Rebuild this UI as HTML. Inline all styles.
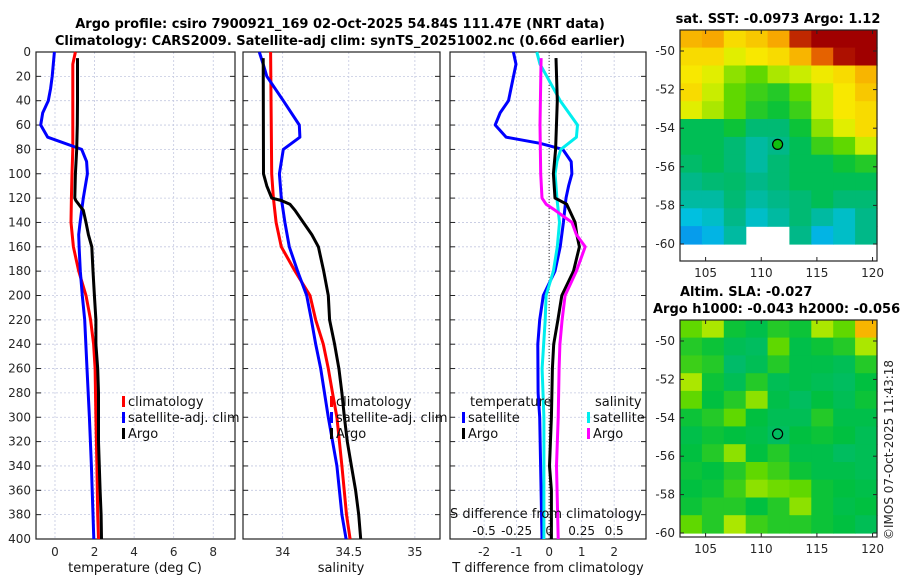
<!DOCTYPE html>
<html><head><meta charset="utf-8"><style>
html,body{margin:0;padding:0;background:#fff;}
svg{display:block;font-family:"DejaVu Sans","Liberation Sans",sans-serif;}
</style></head><body>
<svg id="fig" width="900" height="580" viewBox="0 0 900 580">
<text x="340" y="28" text-anchor="middle" font-size="13" font-weight="bold" fill="#000">Argo profile: csiro 7900921_169 02-Oct-2025 54.84S 111.47E (NRT data)</text>
<text x="340" y="45" text-anchor="middle" font-size="13" font-weight="bold" fill="#000">Climatology: CARS2009. Satellite-adj clim: synTS_20251002.nc (0.66d earlier)</text>
<text x="778" y="23" text-anchor="middle" font-size="13" font-weight="bold">sat. SST: -0.0973 Argo: 1.12</text>
<text x="680" y="296" font-size="13" font-weight="bold">Altim. SLA: -0.027</text>
<text x="653" y="313" font-size="13" font-weight="bold">Argo h1000: -0.043 h2000: -0.056</text>
<text transform="translate(893,540) rotate(-90)" font-size="12" fill="#262626">©IMOS 07-Oct-2025 11:43:18</text>
</svg>
<script>
// ---- data ----
const depthTicks=[0,20,40,60,80,100,120,140,160,180,200,220,240,260,280,300,320,340,360,380,400];
const tTicks=[0,2,4,6,8];
const sTicks=[34,34.5,35];
const dTicks=[-2,-1,0,1,2];
const sDiffTickLabels=["-0.5","-0.25","0","0.25","0.5"];
const sDiffTicks=[-0.5,-0.25,0,0.25,0.5];

const argoTD=[5,40,60,80,100,120,122,130,140,150,160,180,200,220,240,260,280,300,320,340,360,380,400];
const argoT=[1.14,1.14,1.13,1.1,1.03,1.0,1.05,1.43,1.57,1.69,1.86,1.92,1.99,2.07,2.07,2.16,2.2,2.2,2.2,2.24,2.28,2.33,2.35];
const climTD=[0,10,40,80,100,120,140,160,180,200,220,240,260,300,340,380,400];
const climT=[1.03,0.9,0.9,0.9,0.86,0.83,0.81,0.93,1.2,1.57,1.8,1.95,2.03,2.07,2.12,2.16,2.2];
const satTD=[0,20,30,40,50,60,70,80,90,100,120,140,150,160,180,200,220,260,300,340,400];
const satT=[-0.03,-0.14,-0.22,-0.34,-0.62,-0.72,-0.37,1.35,1.6,1.64,1.43,1.27,1.2,1.22,1.28,1.38,1.5,1.62,1.74,1.84,1.96];

const argoSD=[5,100,110,120,122,125,130,140,150,160,180,200,220,240,260,280,300,320,340,360,380,400];
const argoS=[33.853,33.855,33.88,33.917,33.99,34.055,34.093,34.156,34.22,34.27,34.31,34.345,34.355,34.393,34.425,34.448,34.467,34.489,34.52,34.552,34.575,34.59];
const climSD=[0,100,120,140,160,180,200,220,240,260,280,300,340,380,400];
const climS=[33.909,33.917,33.93,33.95,33.99,34.093,34.207,34.25,34.307,34.345,34.377,34.41,34.448,34.483,34.51];
const satSD=[0,10,20,40,60,70,80,100,120,140,160,180,200,220,240,260,300,340,380,400];
const satS=[33.823,33.853,33.88,34.005,34.126,34.13,34.005,33.975,33.99,34.017,34.05,34.113,34.182,34.217,34.25,34.288,34.345,34.41,34.448,34.48];

const satTdiffD=[0,10,40,50,60,70,75,80,90,100,110,120,140,160,180,200,220,240,280,300,400];
const satTdiff=[-1.1,-1.02,-1.25,-1.51,-1.66,-1.32,-0.28,0.42,0.68,0.7,0.6,0.52,0.44,0.34,0.18,-0.18,-0.29,-0.35,-0.34,-0.29,-0.22];
const argoTdiffD=[5,40,80,100,120,125,140,150,160,180,200,220,240,260,300,340,360,400];
const argoTdiff=[0.21,0.25,0.2,0.13,0.18,0.54,0.8,0.85,0.93,0.75,0.39,0.27,0.14,0.1,0.07,0.01,0.07,0.07];
const satSdiffD=[0,10,20,40,60,70,80,90,100,120,140,160,180,200,220,260,300,400];
const satSdiff=[-0.095,-0.07,-0.018,0.085,0.218,0.21,0.09,0.06,0.046,0.06,0.08,0.063,0.033,-0.023,-0.03,-0.054,-0.04,-0.04];
const argoSdiffD=[5,60,100,120,125,130,140,150,160,180,200,220,240,260,300,340,400];
const argoSdiff=[-0.062,-0.07,-0.065,-0.055,-0.023,0.046,0.175,0.21,0.277,0.21,0.123,0.1,0.083,0.077,0.07,0.057,0.07];

const sstGrid=[
[.78,.8,.72,.75,.8,.95,1,1,1],
[.72,.72,.65,.7,.72,.78,.88,.98,1],
[.7,.65,.58,.55,.6,.62,.68,.72,.78],
[.72,.62,.55,.52,.5,.55,.62,.7,.75],
[.65,.6,.55,.5,.48,.52,.62,.7,.72],
[.45,.45,.48,.42,.42,.48,.58,.65,.72],
[.45,.45,.42,.38,.4,.45,.52,.55,.62],
[.43,.45,.42,.38,.42,.45,.45,.48,.5],
[.4,.42,.43,.4,.42,.45,.45,.45,.45],
[.38,.38,.42,.38,.4,.42,.45,.42,.42],
[.33,.35,.4,.35,.38,.42,.38,.35,.4],
[.3,.32,.38,null,null,.4,.32,.35,.4]];
const slaGrid=[
[.55,.6,.48,.46,.5,.48,.6,.55,.78],
[.5,.48,.45,.44,.55,.46,.48,.5,.6],
[.52,.5,.43,.45,.5,.46,.46,.45,.5],
[.6,.48,.45,.5,.45,.46,.45,.44,.47],
[.55,.47,.5,.58,.46,.44,.47,.45,.48],
[.48,.5,.55,.47,.45,.45,.5,.46,.46],
[.46,.48,.47,.46,.44,.47,.48,.47,.45],
[.47,.5,.58,.47,.5,.46,.46,.44,.45],
[.48,.47,.5,.55,.52,.48,.46,.46,.45],
[.47,.48,.52,.58,.56,.55,.48,.47,.46],
[.48,.5,.5,.47,.5,.58,.48,.46,.47],
[.55,.5,.6,.52,.5,.5,.48,.47,.45]];
const lonTicks=[105,110,115,120];
const latTicks=[-50,-52,-54,-56,-58,-60];
const argoLon=111.47, argoLat=-54.84;

// ---- drawing ----
const NS="http://www.w3.org/2000/svg";
const svg=document.getElementById('fig');
function mk(tag,attrs,parent){const e=document.createElementNS(NS,tag);for(const k in attrs)e.setAttribute(k,attrs[k]);(parent||svg).appendChild(e);return e;}
const Y0=52,Y1=539;
const yD=d=>Y0+(Y1-Y0)*d/400;

function panel(name,x0,x1,xmin,xmax,ticks,labels){
  const g=mk('g',{});
  
  
  const sx=v=>x0+(x1-x0)*(v-xmin)/(xmax-xmin);
  depthTicks.forEach(d=>{
    const l=mk('line',{x1:x0,x2:x1,y1:yD(d),y2:yD(d),stroke:'#c3c8e0','stroke-width':0.8,'stroke-dasharray':'2,2'},g);
    
    
    mk('line',{x1:x0,x2:x0+5,y1:yD(d),y2:yD(d),stroke:'#222'},g);
    mk('line',{x1:x1-5,x2:x1,y1:yD(d),y2:yD(d),stroke:'#222'},g);
  });
  ticks.forEach((t,i)=>{
    const l=mk('line',{x1:sx(t),x2:sx(t),y1:Y0,y2:Y1,stroke:'#c3c8e0','stroke-width':0.8,'stroke-dasharray':'2,2'},g);
    
    
    const tx=mk('text',{x:sx(t),y:Y1+17,'text-anchor':'middle','font-size':12,fill:'#262626'},g);
    tx.textContent=labels?labels[i]:String(t);
    
    
  });
  mk('rect',{x:x0,y:Y0,width:x1-x0,height:Y1-Y0,fill:'none',stroke:'#222','stroke-width':1.2},g);
  return {g,sx};
}
function line(p,name,ds,vs,color,w){
  const pts=ds.map((d,i)=>p.sx(vs[i]).toFixed(1)+','+yD(d).toFixed(1)).join(' ');
  const pl=mk('polyline',{points:pts,fill:'none',stroke:color,'stroke-width':w||3,'stroke-linejoin':'round'},p.g);
  
  
}
// depth labels
depthTicks.forEach(d=>{
  const t=mk('text',{x:31,y:yD(d)+4,'text-anchor':'end','font-size':12,fill:'#262626'});
  t.textContent=String(d);
  
  
});
const p1=panel('temperature-panel',36,235,-0.96,9.1,tTicks);
line(p1,'climatology-temperature-line',climTD,climT,'#f00');
line(p1,'satellite-temperature-line',satTD,satT,'#00f');
line(p1,'argo-temperature-line',argoTD,argoT,'#000');
const p2=panel('salinity-panel',243,440,33.70,35.19,sTicks);
line(p2,'climatology-salinity-line',climSD,climS,'#f00');
line(p2,'satellite-salinity-line',satSD,satS,'#00f');
line(p2,'argo-salinity-line',argoSD,argoS,'#000');
const p3=panel('difference-panel',450,646,-3.05,2.98,dTicks);
const zl=mk('line',{x1:p3.sx(0),x2:p3.sx(0),y1:Y0,y2:Y1,stroke:'#333','stroke-dasharray':'1,2'},p3.g);


const p3s={g:p3.g,sx:v=>p3.sx(v*4)};
line(p3,'satellite-temperature-diff-line',satTdiffD,satTdiff,'#00f');
line(p3s,'satellite-salinity-diff-line',satSdiffD,satSdiff,'#0ee');
line(p3,'argo-temperature-diff-line',argoTdiffD,argoTdiff,'#000');
line(p3s,'argo-salinity-diff-line',argoSdiffD,argoSdiff,'#f0f');
sDiffTicks.forEach((s,i)=>{
  const t=mk('text',{x:p3s.sx(s),y:535,'text-anchor':'middle','font-size':12,fill:'#111'});
  t.textContent=sDiffTickLabels[i];
  
  
});
function txt(x,y,s,name,anchor,size){const t=mk('text',{x:x,y:y,'font-size':size||13,fill:'#111','text-anchor':anchor||'start'});t.textContent=s;return t;}
txt(450,518,'S difference from climatology','s-diff-axis-title');
txt(135,572,'temperature (deg C)','temperature-axis-title','middle');
txt(341,572,'salinity','salinity-axis-title','middle');
txt(548,572,'T difference from climatology','t-diff-axis-title','middle');
function legItem(x,y,color,label,name){
  const r=mk('rect',{x:x,y:y-10,width:3,height:11,fill:color});
  
  
  txt(x+6,y,label,name);
}
legItem(122,406,'#f00','climatology','legend-climatology');
legItem(122,422,'#00f','satellite-adj. clim','legend-satellite');
legItem(122,438,'#000','Argo','legend-argo');
legItem(330,406,'#f00','climatology','legend2-climatology');
legItem(330,422,'#00f','satellite-adj. clim','legend2-satellite');
legItem(330,438,'#000','Argo','legend2-argo');
txt(470,406,'temperature','legend3-temperature-header');
legItem(462,422,'#00f','satellite','legend3-t-satellite');
legItem(462,438,'#000','Argo','legend3-t-argo');
txt(595,406,'salinity','legend3-salinity-header');
legItem(587,422,'#0ee','satellite','legend3-s-satellite');
legItem(587,438,'#f0f','Argo','legend3-s-argo');

// colormap
const cStops=[[0.25,[16,96,255]],[0.33,[0,192,224]],[0.40,[0,184,136]],[0.47,[0,192,64]],[0.55,[96,216,0]],[0.63,[216,240,0]],[0.70,[248,232,0]],[0.80,[248,168,0]],[0.90,[224,80,0]],[1.0,[160,0,0]]];
function cmap(v){
  if(v<=cStops[0][0])return 'rgb('+cStops[0][1]+')';
  for(let i=1;i<cStops.length;i++){if(v<=cStops[i][0]){const a=cStops[i-1],b=cStops[i],f=(v-a[0])/(b[0]-a[0]);return 'rgb('+a[1].map((c,k)=>Math.round(c+(b[1][k]-c)*f)).join(',')+')';}}
  return 'rgb('+cStops[cStops.length-1][1]+')';
}
function mapPanel(name,grid,x0,x1,y0,y1,latTopV,latPx50,latPx60,filled){
  const g=mk('g',{});
  
  
  const lonMin=102.7,lonMax=120.4;
  const sx=l=>x0+(x1-x0)*(l-lonMin)/(lonMax-lonMin);
  const sy=la=>latPx50+(latPx60-latPx50)*(la+50)/(-10);
  const rows=grid.length,cols=grid[0].length;
  const top=sy(latTopV),bot=sy(-60);
  const cw=(x1-x0)/cols,ch=(bot-top)/rows;
  grid.forEach((row,r)=>row.forEach((v,c)=>{
    if(v===null)return;
    const cell=mk('rect',{x:(x0+c*cw).toFixed(1),y:(top+r*ch).toFixed(1),width:(cw+0.6).toFixed(1),height:(ch+0.6).toFixed(1),fill:cmap(v)},g);
    
    
  }));
  mk('rect',{x:x0,y:y0,width:x1-x0,height:y1-y0,fill:'none',stroke:'#222','stroke-width':1.2},g);
  lonTicks.forEach(l=>{
    mk('line',{x1:sx(l),x2:sx(l),y1:y1,y2:y1-4,stroke:'#222'},g);
    mk('line',{x1:sx(l),x2:sx(l),y1:y0,y2:y0+4,stroke:'#222'},g);
    const t=mk('text',{x:sx(l),y:y1+16,'text-anchor':'middle','font-size':12,fill:'#262626'},g);
    t.textContent=String(l);
    
    
  });
  latTicks.forEach(la=>{
    mk('line',{x1:x0,x2:x0+4,y1:sy(la),y2:sy(la),stroke:'#222'},g);
    mk('line',{x1:x1,x2:x1-4,y1:sy(la),y2:sy(la),stroke:'#222'},g);
    const t=mk('text',{x:x0-5,y:sy(la)+4,'text-anchor':'end','font-size':12,fill:'#262626'},g);
    t.textContent=String(la);
    
    
  });
  const m=mk('circle',{cx:sx(argoLon),cy:sy(argoLat),r:5,fill:filled?'#10c010':'none',stroke:'#000','stroke-width':1.2},g);
  
  
}
mapPanel('sst-map',sstGrid,680,877,30,261,-48.9,51,244,true);
mapPanel('sla-map',slaGrid,680,877,320,537,-48.9,341,533,false);
</script>
</body></html>
